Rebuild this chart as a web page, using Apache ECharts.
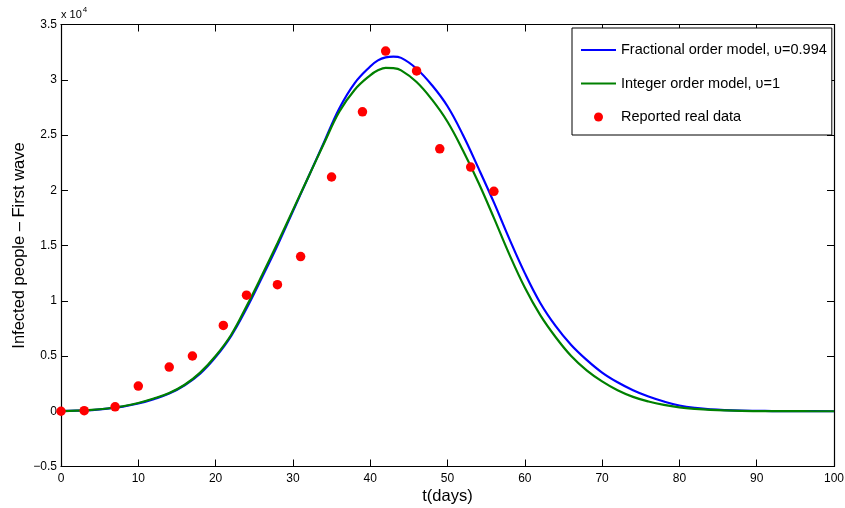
<!DOCTYPE html>
<html>
<head>
<meta charset="utf-8">
<script src="https://cdn.jsdelivr.net/npm/echarts@6/dist/echarts.min.js"></script>
<style>
html,body{margin:0;padding:0;background:#fff;}
#chart{width:845px;height:508px;}
</style>
</head>
<body>
<div id="chart"></div>
<script>
// Values are in units of 10^4 people
var tCurve = [0,2,4,6,8,10,12,14,16,18,20,22,24,26,28,30,32,34,36,38,40,41,42,43,44,46,48,50,52,54,56,58,60,62,64,66,68,70,72,74,76,78,80,82,84,88,92,96,100];
var fractionalModel = [0.002,0.005,0.011,0.023,0.042,0.07,0.11,0.16,0.235,0.34,0.49,0.68,0.93,1.21,1.50,1.81,2.12,2.43,2.74,2.97,3.12,3.175,3.203,3.21,3.198,3.10,2.95,2.76,2.50,2.20,1.89,1.56,1.25,0.98,0.77,0.60,0.465,0.35,0.262,0.19,0.133,0.088,0.052,0.030,0.017,0.006,0.002,0.0005,0];
var integerModel    = [0.002,0.005,0.012,0.025,0.045,0.075,0.115,0.165,0.24,0.35,0.50,0.69,0.95,1.23,1.52,1.82,2.12,2.42,2.71,2.91,3.04,3.085,3.108,3.105,3.085,2.98,2.82,2.62,2.36,2.07,1.75,1.42,1.12,0.87,0.67,0.50,0.37,0.27,0.19,0.13,0.088,0.057,0.035,0.021,0.012,0.004,0.001,0.0003,0];
var tData = [0,3,7,10,14,17,21,24,28,31,35,39,42,46,49,53,56];
var reportedData = [0.0,0.005,0.04,0.228,0.40,0.50,0.777,1.05,1.145,1.40,2.12,2.71,3.26,3.08,2.375,2.21,1.99];
var xTicks = {min:0, max:100, interval:10};
var yTicks = {min:-0.5, max:3.5, interval:0.5};

function pairs(xs, ys){ var out=[]; for(var i=0;i<xs.length;i++) out.push([xs[i], ys[i]]); return out; }

var chart = echarts.init(document.getElementById('chart'), null, {renderer:'canvas'});
var FONT = '"Liberation Sans", Arial, Helvetica, sans-serif';
var tickStyle = {show:true, inside:true, length:7, lineStyle:{color:'#000', width:1}};
var lineStyle = {show:true, onZero:false, lineStyle:{color:'#000', width:1.2}};
var NAMES = ['Fractional order model, \u03c5=0.994','Integer order model, \u03c5=1','Reported real data'];

chart.setOption({
  animation:false,
  backgroundColor:'#fff',
  textStyle:{fontFamily:FONT},
  grid:{left:61, right:11, top:24.5, bottom:41.5, containLabel:false, outerBoundsMode:'none'},
  xAxis:[{
    type:'value', min:xTicks.min, max:xTicks.max, interval:xTicks.interval, position:'bottom',
    axisLine:lineStyle, axisTick:tickStyle, splitLine:{show:false},
    axisLabel:{color:'#000', fontSize:12, margin:6, fontFamily:FONT},
    name:'t(days)', nameLocation:'middle', nameGap:21, nameMoveOverlap:false,
    nameTextStyle:{color:'#000', fontSize:16.5, fontFamily:FONT}
  },{
    type:'value', min:xTicks.min, max:xTicks.max, interval:xTicks.interval, position:'top',
    axisLine:lineStyle, axisTick:tickStyle, splitLine:{show:false}, axisLabel:{show:false}
  }],
  yAxis:[{
    type:'value', min:yTicks.min, max:yTicks.max, interval:yTicks.interval, position:'left',
    axisLine:lineStyle, axisTick:tickStyle, splitLine:{show:false},
    axisLabel:{color:'#000', fontSize:12, margin:4, fontFamily:FONT,
      formatter:function(v){ return String(+v.toFixed(2)).replace('-', '\u2212'); }},
    name:'Infected people \u2013 First wave', nameLocation:'middle', nameGap:33, nameRotate:90, nameMoveOverlap:false,
    nameTextStyle:{color:'#000', fontSize:16.5, fontFamily:FONT}
  },{
    type:'value', min:yTicks.min, max:yTicks.max, interval:yTicks.interval, position:'right',
    axisLine:lineStyle, axisTick:tickStyle, splitLine:{show:false}, axisLabel:{show:false}
  }],
  legend:{
    orient:'vertical', left:572, top:28,
    padding:[13.5,5,9.5,8], itemGap:16.5, itemWidth:35, itemHeight:9,
    backgroundColor:'#fff', borderColor:'#000', borderWidth:1, borderRadius:0,
    textStyle:{color:'#000', fontSize:14.5, lineHeight:17, fontFamily:FONT},
    data:[
      {name:NAMES[0], itemStyle:{opacity:0}},
      {name:NAMES[1], itemStyle:{opacity:0}},
      {name:NAMES[2]}
    ]
  },
  graphic:[{
    type:'text', left:61, top:6,
    style:{text:'{a|x 10}{b|4}', rich:{a:{fontSize:11, fill:'#000', fontFamily:FONT, verticalAlign:'bottom'}, b:{fontSize:8, fill:'#000', fontFamily:FONT, verticalAlign:'top', padding:[0,0,6,1]}}}
  }],
  series:[{
    name:NAMES[0], type:'line', smooth:0.4, symbol:'none', showSymbol:false,
    xAxisIndex:0, yAxisIndex:0,
    data:pairs(tCurve, fractionalModel),
    lineStyle:{color:'#0000ff', width:2.2}, itemStyle:{color:'#0000ff'}
  },{
    name:NAMES[1], type:'line', smooth:0.4, symbol:'none', showSymbol:false,
    xAxisIndex:0, yAxisIndex:0,
    data:pairs(tCurve, integerModel),
    lineStyle:{color:'#008000', width:2.2}, itemStyle:{color:'#008000'}
  },{
    name:NAMES[2], type:'scatter', symbol:'circle', symbolSize:9.5,
    xAxisIndex:0, yAxisIndex:0,
    data:pairs(tData, reportedData),
    itemStyle:{color:'#ff0000', opacity:1}, z:5
  }]
});
</script>
</body>
</html>
